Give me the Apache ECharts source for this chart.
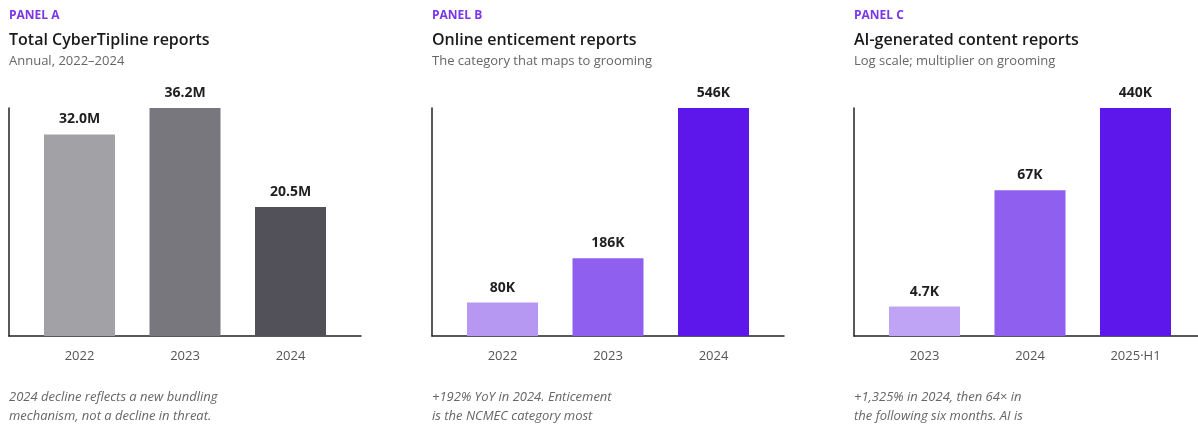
<!DOCTYPE html>
<html>
<head>
<meta charset="utf-8">
<script src="https://cdn.jsdelivr.net/npm/echarts@6/dist/echarts.min.js"></script>
<style>
html,body{margin:0;padding:0;background:#fff;}
#c{width:1198px;height:425px;}
</style>
</head>
<body>
<div id="c"></div>
<script>
// ---- data ----
const catsA = ['2022', '2023', '2024'];
const valsA = [32.0, 36.2, 20.5];          // millions
const catsB = ['2022', '2023', '2024'];
const valsB = [80, 186, 546];              // thousands
const catsC = ['2023', '2024', '2025·H1'];
const valsC = [4700, 67000, 440000];       // counts (log scale)

const panelLabels = ['PANEL A', 'PANEL B', 'PANEL C'];
const titles = ['Total CyberTipline reports', 'Online enticement reports', 'AI-generated content reports'];
const subtitles = ['Annual, 2022–2024', 'The category that maps to grooming', 'Log scale; multiplier on grooming'];
const notes = [
  ['2024 decline reflects a new bundling', 'mechanism, not a decline in threat.'],
  ['+192% YoY in 2024. Enticement', 'is the NCMEC category most'],
  ['+1,325% in 2024, then 64× in', 'the following six months. AI is']
];

// ---- styling ----
const colorsA = ['#a2a1a6', '#78777d', '#52515a'];
const colorsB = ['#b698f3', '#8f5ff0', '#5e17eb'];
const colorsC = ['#bfa3f5', '#8f5ff0', '#5e17eb'];
const FONT = '"Open Sans", "Noto Sans", sans-serif';
const panelX = [9, 432, 854];
const panelW = [352, 352, 344];
const GRID_TOP = 108, GRID_H = 228;
const STEP = 105.5;      // px per category
const LEAD = 70.5;       // px from axis to first bar centre

const chart = echarts.init(document.getElementById('c'), null, {renderer: 'canvas'});

function fmtA(v) { return v.toFixed(1) + 'M'; }
function fmtB(v) { return v + 'K'; }
function fmtC(v) { return (v / 1000) + 'K'; }

const panels = [
  {cats: catsA, vals: valsA, colors: colorsA, fmt: fmtA, y: {type: 'value', min: 0, max: 36.2}},
  {cats: catsB, vals: valsB, colors: colorsB, fmt: fmtB, y: {type: 'value', min: 0, max: 546}},
  {cats: catsC, vals: valsC, colors: colorsC, fmt: fmtC, y: {type: 'log', logBase: 10, min: 2400, max: 440000}}
];

const grid = [], xAxis = [], yAxis = [], series = [], graphic = [];

panels.forEach((p, i) => {
  const w = panelW[i];
  const xmin = -LEAD / STEP;
  const xmax = xmin + w / STEP;
  grid.push({left: panelX[i], top: GRID_TOP, width: w, height: GRID_H, containLabel: false});
  xAxis.push({
    type: 'value', gridIndex: i, min: xmin, max: xmax,
    splitLine: {show: false},
    axisTick: {show: false},
    axisLine: {show: true, onZero: false, lineStyle: {color: '#222', width: 1.5}},
    axisLabel: {
      show: true, customValues: [0, 1, 2], margin: 14,
      color: '#555', fontSize: 13, fontFamily: FONT,
      formatter: (v) => p.cats[Math.round(v)]
    }
  });
  yAxis.push(Object.assign({
    gridIndex: i,
    splitLine: {show: false},
    axisTick: {show: false},
    axisLabel: {show: false},
    axisLine: {show: true, onZero: false, lineStyle: {color: '#222', width: 1.5}}
  }, p.y));
  series.push({
    type: 'bar', xAxisIndex: i, yAxisIndex: i, barWidth: 71, clip: true,
    data: p.vals.map((v, k) => ({value: [k, v], itemStyle: {color: p.colors[k]}})),
    label: {
      show: true, position: 'top', distance: 8,
      color: '#1f1f1f', fontSize: 14, fontWeight: 'bold', fontFamily: FONT,
      formatter: (d) => p.fmt(d.value[1])
    },
    z: 1
  });

  const x = panelX[i];
  graphic.push({type: 'text', x: x, y: 16, style: {text: panelLabels[i], fill: '#7b36ea', font: 'bold 12px ' + FONT, verticalAlign: 'middle'}});
  graphic.push({type: 'text', x: x, y: 40, style: {text: titles[i], fill: '#1a1a1a', font: '600 16px ' + FONT, verticalAlign: 'middle'}});
  graphic.push({type: 'text', x: x, y: 61, style: {text: subtitles[i], fill: '#666', font: '13px ' + FONT, verticalAlign: 'middle'}});
  notes[i].forEach((line, j) => {
    graphic.push({type: 'text', x: x, y: 397 + j * 19, style: {text: line, fill: '#666', font: 'italic 13px ' + FONT, verticalAlign: 'middle'}});
  });
});

chart.setOption({
  animation: false,
  backgroundColor: '#fff',
  grid, xAxis, yAxis, series, graphic
});
</script>
</body>
</html>
